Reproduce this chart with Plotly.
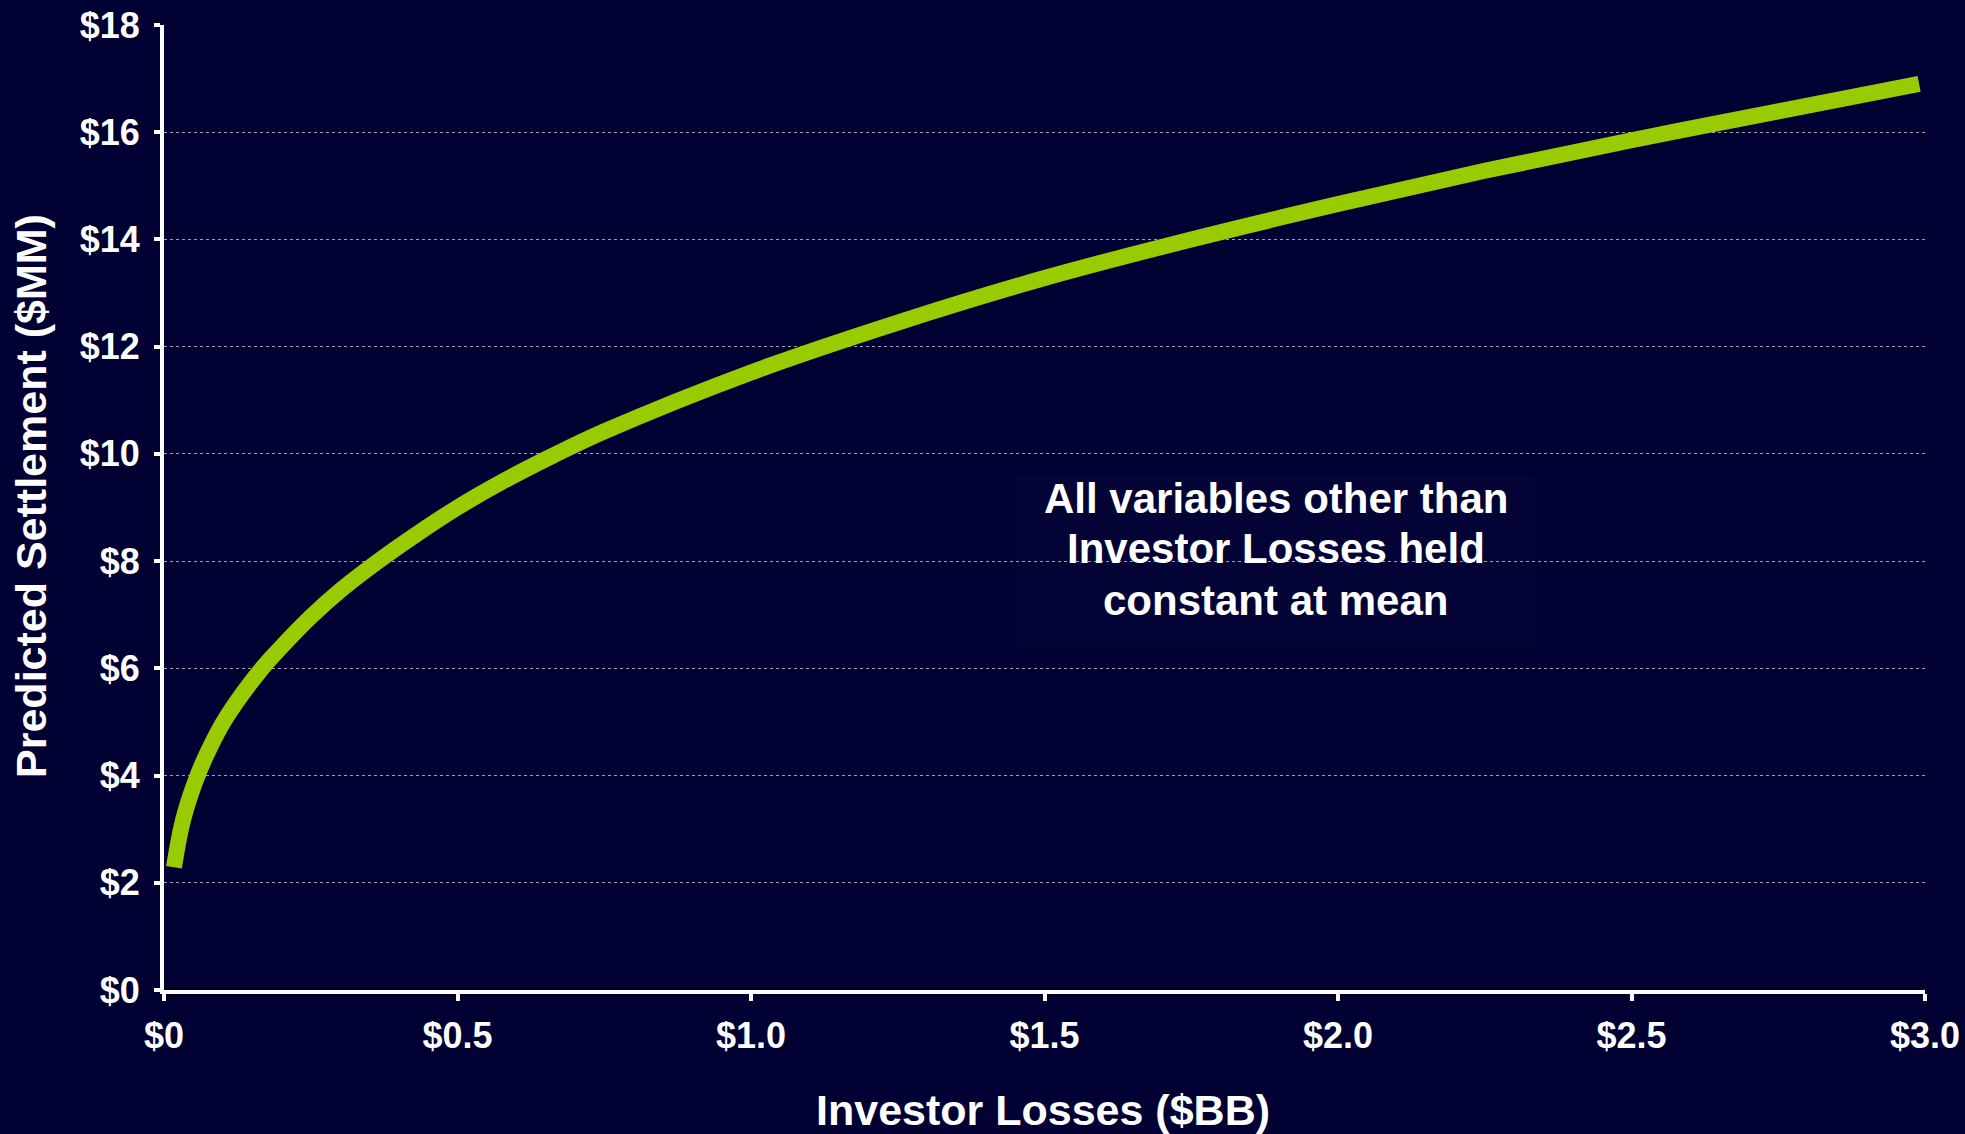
import plotly.graph_objects as go

# Investor losses ($BB) and predicted settlement ($MM)
investor_losses = [0.017, 0.032, 0.053, 0.075, 0.107, 0.167, 0.2, 0.252, 0.3, 0.365,
                   0.43, 0.5, 0.576, 0.663, 0.75, 1.0, 1.25, 1.5, 1.75,
                   2.0, 2.25, 2.5, 2.75, 2.99]
predicted_settlement = [2.29, 3.15, 3.88, 4.45, 5.10, 6.00, 6.40, 6.98, 7.45, 8.00,
                        8.50, 9.00, 9.48, 9.97, 10.42, 11.52, 12.45, 13.28, 14.00,
                        14.66, 15.28, 15.85, 16.39, 16.9]

x_tickvals = [0, 0.5, 1.0, 1.5, 2.0, 2.5, 3.0]
x_ticktext = ["$0", "$0.5", "$1.0", "$1.5", "$2.0", "$2.5", "$3.0"]
y_tickvals = [0, 2, 4, 6, 8, 10, 12, 14, 16, 18]
y_ticktext = ["$0", "$2", "$4", "$6", "$8", "$10", "$12", "$14", "$16", "$18"]

note_lines = ["All variables other than", "Investor Losses held", "constant at mean"]
note_line_y = [8.23 + 0.94, 8.23, 8.23 - 0.96]
x_title = "Investor Losses ($BB)"
y_title = "Predicted Settlement ($MM)"

BG = "#000033"
FONT = "Liberation Sans"

fig = go.Figure()
fig.add_trace(go.Scatter(
    x=investor_losses, y=predicted_settlement, mode="lines",
    line=dict(color="#99CC00", width=16, shape="spline", smoothing=1.0),
    showlegend=False, hoverinfo="skip",
))

# background panel behind the note (hides the gridline)
fig.add_shape(type="rect", xref="x", yref="y", x0=1.451, x1=2.337, y0=6.35, y1=9.6,
              fillcolor="#030335", line=dict(width=0), layer="below")

for txt, yy in zip(note_lines, note_line_y):
    fig.add_annotation(
        x=1.894, y=yy, xref="x", yref="y", text=txt, showarrow=False,
        font=dict(family=FONT, size=42, color="white", weight="bold"),
        xanchor="center", yanchor="middle",
    )

fig.add_annotation(
    x=0.4993, y=-0.1244, xref="paper", yref="paper", text=x_title, showarrow=False,
    font=dict(family=FONT, size=43, color="white", weight="bold"),
    xanchor="center", yanchor="middle",
)
fig.add_annotation(
    x=-0.0755, y=0.512, xref="paper", yref="paper", text=y_title, showarrow=False,
    textangle=-90,
    font=dict(family=FONT, size=43, color="white", weight="bold"),
    xanchor="center", yanchor="middle",
)

fig.update_layout(
    width=1965, height=1134,
    margin=dict(l=164, r=40, t=25, b=144),
    paper_bgcolor=BG, plot_bgcolor=BG,
    font=dict(family=FONT, color="white"),
    xaxis=dict(
        range=[0, 3], tickvals=x_tickvals, ticktext=x_ticktext,
        showgrid=False, zeroline=False, automargin=False,
        showline=True, linecolor="white", linewidth=4,
        ticks="outside", ticklen=7, tickwidth=4, tickcolor="white",
        tickfont=dict(family=FONT, size=36, color="white", weight="bold"),
        ticklabelstandoff=4,
    ),
    yaxis=dict(
        range=[0, 18], tickvals=y_tickvals, ticktext=y_ticktext,
        showgrid=True, gridcolor="#a0a0b0", gridwidth=1, griddash="dot",
        zeroline=False, automargin=False,
        showline=True, linecolor="white", linewidth=4,
        ticks="outside", ticklen=6, tickwidth=4, tickcolor="white",
        tickfont=dict(family=FONT, size=36, color="white", weight="bold"),
        ticklabelstandoff=7,
    ),
)

fig.write_html("out.html")
